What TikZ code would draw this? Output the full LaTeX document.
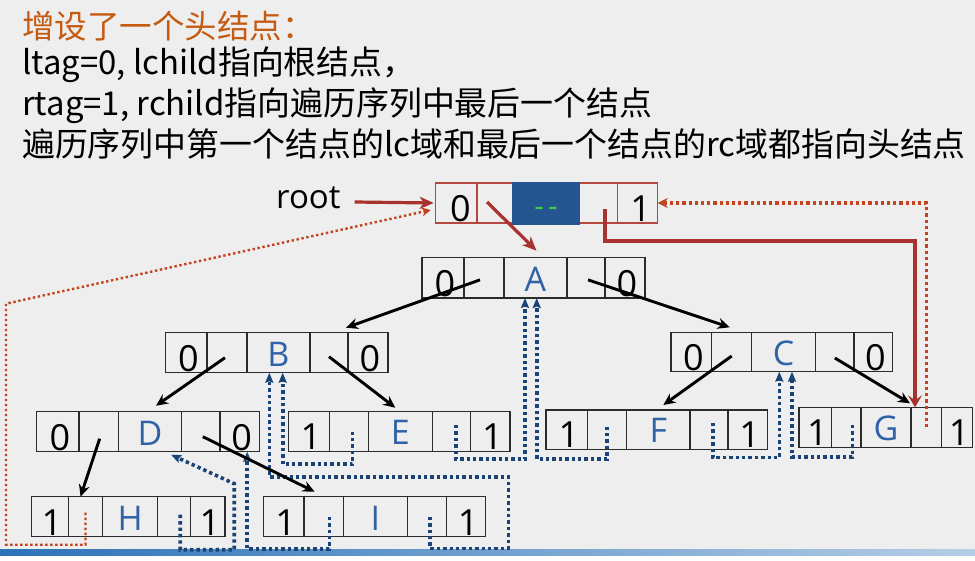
\documentclass[tikz,border=0pt]{standalone}
\usepackage{fontspec}
\setmainfont{Noto Sans CJK SC}
\newfontfamily\cellfont{Open Sans}
\usetikzlibrary{arrows.meta}
\definecolor{bg}{HTML}{EEEEEE}
\definecolor{cellline}{HTML}{2B2B2B}
\definecolor{headline}{HTML}{B5473F}
\definecolor{headfill}{HTML}{245591}
\definecolor{letterblue}{HTML}{2F62A6}
\definecolor{redsolid}{HTML}{A8322D}
\definecolor{reddotted}{HTML}{C4421E}
\definecolor{threadblue}{HTML}{1A4478}
\definecolor{titleorange}{HTML}{C55A11}
\definecolor{dashgreen}{HTML}{3DD13D}
\definecolor{band}{HTML}{2C72B8}
\newcommand\recbox[9]{%
  \node[cell,minimum width={(#3-#2)*1pt},minimum height={(#9-#8)*1pt}] (#1-1) at ({(#2+#3)/2},{(#8+#9)/2}) {};
  \node[cell,minimum width={(#4-#3)*1pt},minimum height={(#9-#8)*1pt}] (#1-2) at ({(#3+#4)/2},{(#8+#9)/2}) {};
  \node[cell,minimum width={(#5-#4)*1pt},minimum height={(#9-#8)*1pt}] (#1-3) at ({(#4+#5)/2},{(#8+#9)/2}) {};
  \node[cell,minimum width={(#6-#5)*1pt},minimum height={(#9-#8)*1pt}] (#1-4) at ({(#5+#6)/2},{(#8+#9)/2}) {};
  \node[cell,minimum width={(#7-#6)*1pt},minimum height={(#9-#8)*1pt}] (#1-5) at ({(#6+#7)/2},{(#8+#9)/2}) {};
}
\newcommand\fillrec[4]{% name, digit left, letter, digit right
  \node[digit] at ([shift={(2,-1.5)}]#1-1.south) {#2};
  \node[letter] at ([shift={(0,-6.5)}]#1-3.south) {#3};
  \node[digit] at ([shift={(2,-1.5)}]#1-5.south) {#4};
}
\begin{document}
\begin{tikzpicture}[x=1pt,y=-1pt,
  cell/.style={draw=cellline,line width=1.3pt,inner sep=0pt,outer sep=0pt},
  digit/.style={font=\cellfont\fontsize{36}{36}\selectfont,inner sep=0pt,anchor=base},
  letter/.style={font=\cellfont\fontsize{34}{34}\selectfont,text=letterblue,inner sep=0pt,anchor=base},
  bodytext/.style={font=\fontsize{32.9}{32.9}\selectfont,inner sep=0pt,anchor=base west},
  childarrow/.style={draw=black,line width=2.9pt,-{Stealth[length=12pt,width=11pt,inset=4pt]}},
  redarrow/.style={draw=redsolid,line width=3.2pt,-{Stealth[length=14pt,width=12pt,inset=4pt]}},
  redthick/.style={draw=redsolid,line width=3.2pt,-{Stealth[length=12pt,width=14pt,inset=5pt]}},
  reddot/.style={draw=reddotted,line width=3.5pt,dash pattern=on 3.2pt off 3pt,-{Stealth[length=10pt,width=10pt,inset=3pt]}},
  reddotthin/.style={draw=reddotted,line width=2.4pt,dash pattern=on 2.4pt off 2.6pt,-{Stealth[length=9pt,width=9pt,inset=3pt]}},
  thread/.style={draw=threadblue,line width=3.6pt,dash pattern=on 3.4pt off 3pt,-{Stealth[length=10pt,width=8pt,inset=1.5pt]}}
]
\useasboundingbox (0,0) rectangle (975,560);
\fill[bg] (0,0) rectangle (975,560);
\fill[white!95!bg] (0,554) rectangle (975,560);
\shade[left color=band,middle color=band!92!white,right color=band!35!white] (0,549) rectangle (975,555);

% title text
\node[bodytext,font=\fontsize{32.5}{32.5}\selectfont,text=titleorange] (t1) at (22,38) {增设了一个头结点：};
\node[bodytext] (t2) at (22,74) {ltag=0, lchild指向根结点，};
\node[bodytext] (t3) at (22,115) {rtag=1, rchild指向遍历序列中最后一个结点};
\node[bodytext] (t4) at (22,156) {遍历序列中第一个结点的lc域和最后一个结点的rc域都指向头结点};

% head node
\begin{scope}[cell/.append style={draw=headline}]
\recbox{head}{435.7}{477}{513}{579}{617.7}{657.7}{183}{223}
\end{scope}
\fill[headfill] ([shift={(-0.7,-0.7)}]head-3.north west) rectangle ([shift={(0.7,1.5)}]head-3.south east);
\node[digit] at ([shift={(4,-1.5)}]head-1.south) {0};
\node[digit] at ([shift={(3,-1.5)}]head-5.south) {1};
\node[inner sep=0pt,anchor=base,text=dashgreen,font=\cellfont\fontsize{30}{30}\selectfont] (hdash) at ([shift={(0,-7)}]head-3.south) {-\kern4pt-};
\node[inner sep=0pt,anchor=base west,font=\cellfont\fontsize{33}{33}\selectfont] (root) at (276,208) {root};

% tree nodes
\recbox{A}{422}{464}{504}{567}{605}{645}{257.7}{298}
\recbox{B}{165.7}{207}{247}{310}{348}{388}{332.7}{372.7}
\recbox{C}{671}{711.7}{751.7}{815.7}{854}{892.7}{332.3}{371.7}
\recbox{D}{36.7}{79}{118.3}{181.7}{220}{259.3}{411.7}{451.7}
\recbox{E}{288.3}{329.3}{368.3}{432.3}{470.7}{510}{411.7}{451.3}
\recbox{F}{546}{587.7}{626.7}{690}{728}{767.3}{410}{449.3}
\recbox{G}{799}{831.7}{861}{911}{941.7}{972.7}{407.3}{447.3}
\recbox{H}{31.7}{68.3}{102.7}{157.7}{190.7}{225}{496.7}{536.7}
\recbox{I}{263.3}{304}{343.3}{407.3}{446.7}{485.7}{496.7}{536.7}
\fillrec{A}{0}{A}{0}
\fillrec{B}{0}{B}{0}
\fillrec{C}{0}{C}{0}
\fillrec{D}{0}{D}{0}
\fillrec{E}{1}{E}{1}
\fillrec{F}{1}{F}{1}
\fillrec{G}{1}{G}{1}
\fillrec{H}{1}{H}{1}
\fillrec{I}{1}{I}{1}

% threads (blue dotted)
\draw[thread] ([shift={(6,-2)}]H-4.center) -- ++(0,35) -- ++(54,0) -- ++(0,-66) -- ([shift={(21,3)}]D-3.south);
\draw[thread] ([shift={(6,0)}]I-2.center) -- ++(0,32) -| ([shift={(7.6,0)}]D-5.south);
\draw[thread] ([shift={(3,0)}]I-4.center) -- ++(0,31.6) -- ++(78.3,0) -- ++(0,-71.6) -| ([shift={(-9.2,0)}]B-3.south);
\draw[thread] ([shift={(3.5,0)}]E-2.center) -- ++(0,32.6) -| ([shift={(4.2,0)}]B-3.south);
\draw[thread] ([shift={(4.2,-6.5)}]E-4.center) -- ++(0,34) -| ([shift={(-10.5,0)}]A-3.south);
\draw[thread] ([shift={(-0.5,-3)}]F-2.center) -- ++(0,32.3) -| ([shift={(1.2,0)}]A-3.south);
\draw[thread] ([shift={(3.7,-6.7)}]F-4.center) -- ++(0,34.7) -| ([shift={(-4.4,0)}]C-3.south);
\draw[thread] ([shift={(6,-2.3)}]G-2.center) -- ++(0,32) -| ([shift={(8.3,0)}]C-3.south);

% child pointers
\draw[childarrow] ([shift={(-4,2)}]A-2.center) -- ([shift={(-2,-5)}]B-4.north east);
\draw[childarrow] ([shift={(2,2)}]A-4.center) -- ([shift={(-2,-5)}]C-2.north);
\draw[childarrow] ([shift={(-2,5)}]B-2.center) -- ([shift={(6,-6)}]D-3.north);
\draw[childarrow] ([shift={(0,4)}]B-4.center) -- ([shift={(-5,-4)}]E-3.north);
\draw[childarrow] ([shift={(0,4)}]C-2.center) -- ([shift={(5,-5)}]F-3.north);
\draw[childarrow] ([shift={(0,6)}]C-4.center) -- ([shift={(-1,-4)}]G-3.north east);
\draw[childarrow] ([shift={(1,7)}]D-2.center) -- ([shift={(-5,0)}]H-2.north);
\draw[childarrow] ([shift={(2,5)}]D-4.center) -- ([shift={(-9,-5)}]I-2.north);

% head pointers (red)
\draw[redarrow] ([shift={(14,-6)}]root.base east) -- ([shift={(-2,0)}]head-1.west);
\draw[redarrow] ([shift={(-8,-1)}]head-2.center) -- ([shift={(1,-7)}]A-3.north);
\draw[redthick] ([shift={(6.7,6)}]head-4.center) -- ++(0,32) -| ([shift={(4,0)}]G-4.north west);
\draw[reddot] (G-4.center) |- (head-5.east);
\draw[reddotthin] ([shift={(0,-4)}]H-2.center) -- ++(0,32) -| ++(-79.5,-241) -- ([shift={(-5,7)}]head-1.west);
\end{tikzpicture}
\end{document}
